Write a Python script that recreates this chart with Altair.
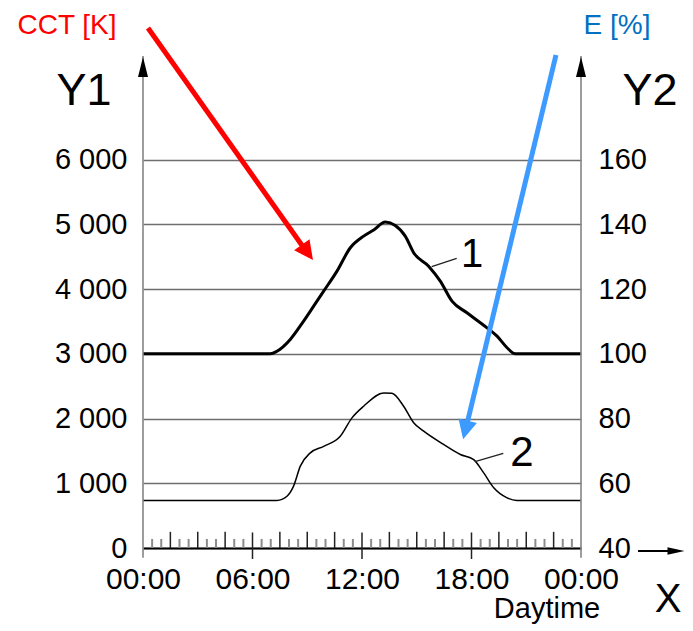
import json
import altair as alt
import pandas as pd

# ---------------- data ----------------
hours_cct = [0, 6.98, 7.34, 8.07, 8.8, 9.35, 9.9, 10.63, 11.36, 12.09, 12.64, 13.28,
             13.82, 14.37, 14.83, 15.65, 16.29, 16.93, 17.75, 18.85, 19.4, 19.95, 20.4, 24]
cct_k = [3000, 3000, 3040, 3222, 3505, 3736, 3968, 4277, 4638, 4818, 4911, 5034,
         4983, 4818, 4561, 4354, 4122, 3813, 3633, 3401, 3272, 3093, 3000, 3000]

hours_e = [0, 7.34, 7.89, 8.25, 8.62, 9.17, 9.9, 10.81, 11.45, 12.09, 13.19, 13.64,
           14.28, 14.83, 15.38, 16.47, 17.39, 18.12, 18.67, 19.22, 19.95, 20.49, 24]
e_pct = [54.7, 54.7, 56, 59.1, 65.3, 69.4, 71.4, 74.5, 80.2, 83.8, 87.9, 87.8,
         83.8, 78.7, 76.1, 72, 68.9, 67.3, 63.2, 58.6, 55.5, 54.7, 54.7]

y1_ticks = [0, 1000, 2000, 3000, 4000, 5000, 6000]
y1_labels = ["0", "1 000", "2 000", "3 000", "4 000", "5 000", "6 000"]
y2_ticks = [40, 60, 80, 100, 120, 140, 160]
x_ticks = [0, 6, 12, 18, 24]
x_labels = ["00:00", "06:00", "12:00", "18:00", "00:00"]

# E [%] axis maps onto the Y1 axis: 40 % <-> 0 K, 1 % = 50 K
E_ZERO = 40
K_PER_PCT = 50

# ---------------- layout ----------------
FONT = "Liberation Sans"
W, H = 438, 492
XDOM = [0, 24]
YDOM = [0, 7600]
PX_X0, PX_Y0 = 143, 548


def hx(px):
    return (px - PX_X0) / W * (XDOM[1] - XDOM[0])


def vy(py):
    return (PX_Y0 - py) / H * (YDOM[1] - YDOM[0])


def X(field, axis=None):
    return alt.X(field, type="quantitative", axis=axis,
                 scale=alt.Scale(domain=XDOM, nice=False, zero=False))


def Y(field, axis=None):
    return alt.Y(field, type="quantitative", axis=axis,
                 scale=alt.Scale(domain=YDOM, nice=False, zero=False))


def X2(field):
    return alt.X2(field)


def Y2(field):
    return alt.Y2(field)


x_axis = alt.Axis(values=x_ticks, labelExpr=f"{json.dumps(x_labels)}[datum.value/6]",
                  grid=False, domain=True, domainColor="black", domainWidth=2,
                  ticks=False, labelPadding=16, labelFontSize=30, labelFont=FONT,
                  labelColor="black", labelOverlap=False, labelFlush=False, title=None)
y1_axis = alt.Axis(values=y1_ticks, labelExpr=f"{json.dumps(y1_labels)}[datum.value/1000]",
                   grid=True, gridColor="#6e6e6e", gridWidth=1.5, domain=False,
                   ticks=False, labelPadding=16, labelFontSize=29, labelFont=FONT,
                   labelColor="black", labelOverlap=False, title=None)
y2_axis = alt.Axis(orient="right", values=[(v - E_ZERO) * K_PER_PCT for v in y2_ticks],
                   labelExpr=f"datum.value/{K_PER_PCT}+{E_ZERO}",
                   grid=False, domain=False, ticks=False, labelPadding=17,
                   labelFontSize=29, labelFont=FONT, labelColor="black",
                   labelOverlap=False, title=None)

# ---------------- layers ----------------
df_cct = pd.DataFrame({"h": hours_cct, "v": cct_k})
df_e = pd.DataFrame({"h": hours_e, "e": e_pct})

curve1 = alt.Chart(df_cct).mark_line(color="black", strokeWidth=3, interpolate="monotone").encode(
    x=X("h", x_axis), y=Y("v", y1_axis))

curve2 = alt.Chart(df_e).transform_calculate(
    v=f"(datum.e-{E_ZERO})*{K_PER_PCT}").mark_line(
    color="black", strokeWidth=1.5, interpolate="monotone").encode(
    x=X("h"), y=Y("v", y2_axis))

# vertical axis lines
df_vax = pd.DataFrame({"x": [0, 24], "y": [-150, -150], "y2": [7600, 7600]})
vaxes = alt.Chart(df_vax).mark_rule(color="#858585", strokeWidth=1.6).encode(
    x=X("x"), y=Y("y"), y2=Y2("y2"))

# x-axis ticks (every 30 min, taller every 1.5 h, crossing ones every 6 h)
tick_rows = []
for k in range(1, 48):
    h = k / 2
    if h % 6 == 0:
        tick_rows.append({"x": h, "y": -170, "y2": 240, "kind": "major"})
    elif h % 1.5 == 0:
        tick_rows.append({"x": h, "y": 0, "y2": 250, "kind": "tall"})
    else:
        tick_rows.append({"x": h, "y": 0, "y2": 140, "kind": "short"})
df_ticks = pd.DataFrame(tick_rows)
ticks_short = alt.Chart(df_ticks[df_ticks.kind == "short"]).mark_rule(
    color="#8c8c8c", strokeWidth=2).encode(x=X("x"), y=Y("y"), y2=Y2("y2"))
ticks_tall = alt.Chart(df_ticks[df_ticks.kind != "short"]).mark_rule(
    color="#222222", strokeWidth=1.5).encode(x=X("x"), y=Y("y"), y2=Y2("y2"))

# axis arrowheads (up on Y1/Y2, right on X)
UP = "M0,-1L-0.5,1L0.5,1Z"
RIGHT = "M1,0L-1,-0.45L-1,0.45Z"
df_up = pd.DataFrame({"x": [0, 24], "y": [vy(67), vy(67)]})
up_heads = alt.Chart(df_up).mark_point(shape=UP, filled=True, size=400, color="black",
                                       opacity=1, strokeWidth=0).encode(x=X("x"), y=Y("y"))
df_xarrow = pd.DataFrame({"x": [hx(638)], "x2": [hx(670)], "y": [vy(551)]})
x_shaft = alt.Chart(df_xarrow).mark_rule(color="black", strokeWidth=2).encode(
    x=X("x"), x2=X2("x2"), y=Y("y"))
df_xhead = pd.DataFrame({"x": [hx(676)], "y": [vy(551)]})
x_head = alt.Chart(df_xhead).mark_point(shape=RIGHT, filled=True, size=289, color="black",
                                        opacity=1, strokeWidth=0).encode(x=X("x"), y=Y("y"))

# coloured pointer arrows
HEAD = "M0,-1L-1,1L1,1Z"
df_red = pd.DataFrame({"x": [hx(148)], "y": [vy(28)], "x2": [hx(306)], "y2": [vy(251)]})
red_shaft = alt.Chart(df_red).mark_rule(color="#ff0000", strokeWidth=5).encode(
    x=X("x"), y=Y("y"), x2=X2("x2"), y2=Y2("y2"))
red_head = alt.Chart(pd.DataFrame({"x": [hx(307.4)], "y": [vy(252.4)]})).mark_point(
    shape=HEAD, filled=True, size=360, color="#ff0000", opacity=1, strokeWidth=0,
    angle=144).encode(x=X("x"), y=Y("y"))

df_blue = pd.DataFrame({"x": [hx(556)], "y": [vy(55)], "x2": [hx(466)], "y2": [vy(428)]})
blue_shaft = alt.Chart(df_blue).mark_rule(color="#3d9bff", strokeWidth=5).encode(
    x=X("x"), y=Y("y"), x2=X2("x2"), y2=Y2("y2"))
blue_head = alt.Chart(pd.DataFrame({"x": [hx(465.4)], "y": [vy(430)]})).mark_point(
    shape=HEAD, filled=True, size=360, color="#3d9bff", opacity=1, strokeWidth=0,
    angle=194).encode(x=X("x"), y=Y("y"))

# leader lines for curve labels
df_lead = pd.DataFrame({"x": [hx(431.7), hx(475)], "y": [vy(266.7), vy(461.7)],
                        "x2": [hx(456.7), hx(503.3)], "y2": [vy(258.3), vy(453.3)]})
leaders = alt.Chart(df_lead).mark_rule(color="#222222", strokeWidth=1.3).encode(
    x=X("x"), y=Y("y"), x2=X2("x2"), y2=Y2("y2"))

# texts
df_text = pd.DataFrame([
    {"x": hx(67), "y": vy(34), "t": "CCT [K]", "c": "#ff0000", "s": 28},
    {"x": hx(617), "y": vy(34), "t": "E [%]", "c": "#0070c0", "s": 28},
    {"x": hx(84), "y": vy(105), "t": "Y1", "c": "black", "s": 45},
    {"x": hx(650), "y": vy(105), "t": "Y2", "c": "black", "s": 45},
    {"x": hx(472), "y": vy(267), "t": "1", "c": "black", "s": 40},
    {"x": hx(522), "y": vy(466), "t": "2", "c": "black", "s": 42},
    {"x": hx(668), "y": vy(612), "t": "X", "c": "black", "s": 40},
    {"x": hx(547), "y": vy(618), "t": "Daytime", "c": "black", "s": 29},
])
texts = alt.Chart(df_text).mark_text(font=FONT, align="center", baseline="alphabetic").encode(
    x=X("x"), y=Y("y"), text="t:N",
    color=alt.Color("c:N", scale=None), size=alt.Size("s:Q", scale=None))

chart = alt.layer(
    curve1, curve2, vaxes, ticks_short, ticks_tall, up_heads, x_shaft, x_head,
    leaders, red_shaft, red_head, blue_shaft, blue_head, texts
).resolve_axis(x="independent", y="independent").properties(
    width=W, height=H,
    autosize=alt.AutoSizeParams(type="none"),
    padding={"left": 135, "top": 48, "right": 104, "bottom": 78},
    background="white",
).configure_view(stroke=None)

chart.save("out.html", embed_options={"renderer": "svg", "actions": False})
